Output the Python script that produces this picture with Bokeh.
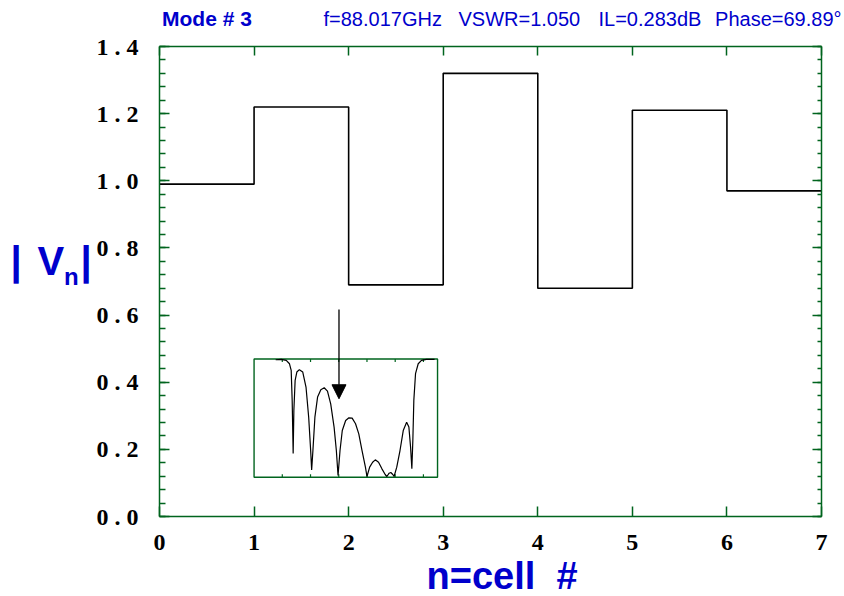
from bokeh.plotting import figure
from bokeh.models import Range1d, LinearAxis, FixedTicker, Label, Arrow, NormalHead
from bokeh.embed import file_html
from bokeh.resources import INLINE

# ---------------- data ----------------
cell_edges = [0, 1, 2, 3, 4, 5, 6, 7]
vn_values = [0.99, 1.22, 0.69, 1.32, 0.68, 1.21, 0.97]

x_ticks = [0, 1, 2, 3, 4, 5, 6, 7]
x_tick_labels = ["0", "1", "2", "3", "4", "5", "6", "7"]
y_ticks = [0.0, 0.2, 0.4, 0.6, 0.8, 1.0, 1.2, 1.4]
y_tick_labels = ["0 . 0", "0 . 2", "0 . 4", "0 . 6", "0 . 8", "1 . 0", "1 . 2", "1 . 4"]
y_minor_ticks = [round(i * 0.04, 2) for i in range(36)]

mode_number = 3
freq_ghz = 88.017
vswr = 1.050
il_db = 0.283
phase_deg = 69.89

# inset: frequency response (GHz vs normalised magnitude)
inset_freq = [83.53, 83.93, 84.28, 84.51, 84.63, 84.70, 84.77, 84.82, 84.91, 85.03,
              85.21, 85.45, 85.68, 85.87, 86.01, 86.08, 86.17, 86.31, 86.50, 86.73,
              86.97, 87.20, 87.43, 87.67, 87.83, 87.95, 88.09, 88.25, 88.49, 88.72,
              88.95, 89.19, 89.42, 89.65, 89.89, 90.00, 90.19, 90.40, 90.59, 90.82,
              91.06, 91.29, 91.41, 91.57, 91.69, 91.83, 91.92, 92.11, 92.34, 92.57,
              92.81, 92.97, 93.09, 93.18, 93.25, 93.32, 93.44, 93.63, 93.86, 94.21,
              94.79]
inset_mag = [0.994, 0.997, 0.989, 0.960, 0.904, 0.650, 0.200, 0.565, 0.820, 0.890,
             0.910, 0.890, 0.763, 0.508, 0.226, 0.062, 0.226, 0.508, 0.678, 0.740,
             0.757, 0.729, 0.621, 0.424, 0.226, 0.014, 0.226, 0.395, 0.480, 0.503,
             0.500, 0.452, 0.367, 0.226, 0.085, 0.006, 0.085, 0.127, 0.147, 0.127,
             0.071, 0.023, 0.006, 0.034, 0.040, 0.023, 0.006, 0.085, 0.226, 0.395,
             0.466, 0.424, 0.254, 0.071, 0.311, 0.650, 0.876, 0.960, 0.989, 0.997,
             0.997]
inset_ticks = [84, 86, 88, 90, 92, 94]
inset_xlim = (82.0, 95.0)
inset_ylim = (0.0, 1.0)
arrow_top, arrow_tip = 1.42, 0.664

# ---------------- style / layout ----------------
GREEN = "#00641e"
BLUE = "#0000cc"
W, H = 844, 596
LEFT, RIGHT, TOP, BOTTOM = 159, 23, 46, 80     # plot box margins in pixels
XMIN, XMAX, YMIN, YMAX = 0, 7, 0, 1.4
INSET_BOX = (1.0, 2.94, 0.117, 0.469)          # inset placement in main-axes units

# The frame fills the canvas; the axes are pinned to the data box edges so that
# all annotation texts lie inside the (unclipped) frame.
ppx = (W - LEFT - RIGHT) / (XMAX - XMIN)
ppy = (H - TOP - BOTTOM) / (YMAX - YMIN)
xr = Range1d(XMIN - LEFT / ppx, XMAX + RIGHT / ppx)
yr = Range1d(YMIN - BOTTOM / ppy, YMAX + TOP / ppy)

p = figure(width=W, height=H, x_range=xr, y_range=yr,
           x_axis_type=None, y_axis_type=None, output_backend="svg",
           toolbar_location=None, min_border=0)
p.outline_line_color = None
p.background_fill_color = "white"
p.border_fill_color = "white"


def axis(loc, bounds, ticks, minor, tick_in, minor_in, show_labels,
         overrides=None, font="", standoff=0):
    ax = LinearAxis(ticker=FixedTicker(ticks=ticks, minor_ticks=minor),
                    fixed_location=loc, bounds=bounds,
                    major_tick_in=tick_in, major_tick_out=0,
                    minor_tick_in=minor_in, minor_tick_out=0,
                    axis_line_color=GREEN, axis_line_width=1.5,
                    major_tick_line_color=GREEN, major_tick_line_width=1.5,
                    minor_tick_line_color=GREEN, minor_tick_line_width=1.5)
    if show_labels:
        ax.major_label_overrides = overrides
        ax.major_label_text_font = "Liberation Serif"
        ax.major_label_text_font_style = "bold"
        ax.major_label_text_font_size = font
        ax.major_label_text_color = "black"
        ax.major_label_standoff = standoff
    else:
        ax.major_label_text_font_size = "0px"
        ax.major_label_text_color = None
    return ax


p.add_layout(axis(XMIN, (YMIN, YMAX), y_ticks, y_minor_ticks, 10, 6, True,
                  dict(zip(y_ticks, y_tick_labels)), "24px", 21), "left")
p.add_layout(axis(XMAX, (YMIN, YMAX), y_ticks, y_minor_ticks, 9, 4, False), "right")
p.add_layout(axis(YMIN, (XMIN, XMAX), x_ticks, [], 10, 0, True,
                  dict(zip(x_ticks, x_tick_labels)), "24px", 18), "below")
p.add_layout(axis(YMAX, (XMIN, XMAX), x_ticks, [], 9, 0, False), "above")

# main step line
p.step(x=cell_edges, y=vn_values + [vn_values[-1]], mode="after",
       line_color="black", line_width=1.6)

# inset via extra ranges mapped onto INSET_BOX
bx0, bx1, by0, by1 = INSET_BOX
sx = (inset_xlim[1] - inset_xlim[0]) / (bx1 - bx0)
sy = (inset_ylim[1] - inset_ylim[0]) / (by1 - by0)
p.extra_x_ranges = {"ix": Range1d(inset_xlim[0] - (bx0 - xr.start) * sx,
                                  inset_xlim[0] + (xr.end - bx0) * sx)}
p.extra_y_ranges = {"iy": Range1d(inset_ylim[0] - (by0 - yr.start) * sy,
                                  inset_ylim[0] + (yr.end - by0) * sy)}
rn = dict(x_range_name="ix", y_range_name="iy")

p.quad(left=[inset_xlim[0]], right=[inset_xlim[1]], bottom=[inset_ylim[0]],
       top=[inset_ylim[1]], fill_color="white", line_color=GREEN, line_width=1.4, **rn)
tick_len = 0.025
n = len(inset_ticks)
p.segment(x0=inset_ticks, y0=[inset_ylim[0]] * n, x1=inset_ticks,
          y1=[inset_ylim[0] + tick_len] * n, line_color=GREEN, line_width=1.2, **rn)
p.segment(x0=inset_ticks, y0=[inset_ylim[1]] * n, x1=inset_ticks,
          y1=[inset_ylim[1] - tick_len] * n, line_color=GREEN, line_width=1.2, **rn)
p.line(inset_freq, inset_mag, line_color="black", line_width=1.2, **rn)
p.add_layout(Arrow(x_start=freq_ghz, y_start=arrow_top, x_end=freq_ghz, y_end=arrow_tip,
                   line_color="black", line_width=1.3,
                   end=NormalHead(size=14, fill_color="black", line_color="black"), **rn))


# texts: canvas pixel position (x from left, glyph baseline y from top)
BASELINE_SHIFT = 0.37  # em; renderer places "alphabetic" text this much lower


def label(text, cx, cy, size, bold=True, align="left", color=BLUE):
    px = float(size.rstrip("px"))
    p.add_layout(Label(x=cx, y=H - (cy - BASELINE_SHIFT * px), x_units="screen",
                       y_units="screen", text=text, text_font="Liberation Sans",
                       text_font_size=size, text_font_style="bold" if bold else "normal",
                       text_color=color, text_align=align, text_baseline="alphabetic"))


label(f"Mode # {mode_number}", 161.5, 26, "21px")
label(f"f={freq_ghz:.3f}GHz", 323, 26, "20px", bold=False)
label(f"VSWR={vswr:.3f}", 458, 26, "20px", bold=False)
label(f"IL={il_db:.3f}dB", 598, 26, "20px", bold=False)
label(f"Phase={phase_deg:.2f}°", 841, 26, "20px", bold=False, align="right")

label("|", 10, 275, "40px")
label("V", 37, 275, "40px")
label("n", 63.5, 285, "24px")
label("|", 80, 275, "40px")
label("n=cell\u00a0\u00a0#", 426, 590, "38px")  # non-breaking spaces keep the double gap

open("out.html", "w").write(file_html(p, INLINE))
